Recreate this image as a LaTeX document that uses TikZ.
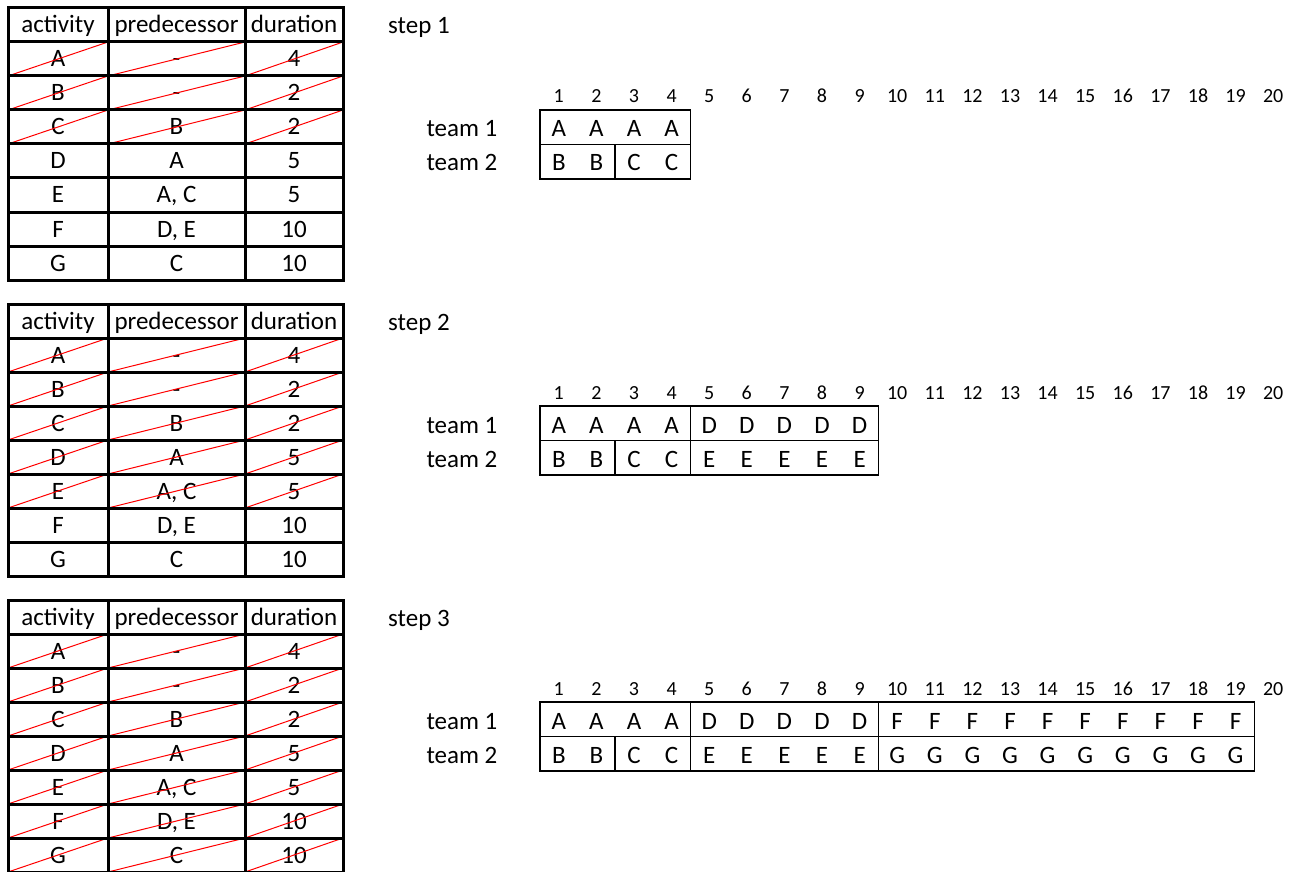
\documentclass[tikz,border=0pt]{standalone}
\usepackage{fontspec}
\setmainfont{Carlito}
\newcommand\acttable[2]{%
  \node[txt,anchor=base] (h#1a) at (58,#1+25) {activity};
  \node[txt,anchor=base] (h#1p) at (176.5,#1+25) {predecessor};
  \node[txt,anchor=base] (h#1d) at (294,#1+25) {duration};
  \foreach \a/\p/\d [count=\i] in {A/-/4,B/-/2,C/B/2,D/A/5,E/{A, C}/5,F/{D, E}/10,G/C/10}{
    \node[txt,anchor=base] (r#1a\i) at (58,#1+34*\i+25) {\a};
    \node[txt,anchor=base] (r#1p\i) at (176.5,#1+34*\i+25) {\p};
    \node[txt,anchor=base] (r#1d\i) at (294,#1+34*\i+25) {\d};
    \ifnum\i>#2\relax\else
      \draw[strike] (8,#1+34*\i+34) -- (108,#1+34*\i);
      \draw[strike] (108,#1+34*\i+34) -- (245,#1+34*\i);
      \draw[strike] (245,#1+34*\i+34) -- (343,#1+34*\i);
    \fi
  }
  \foreach \k in {1,...,7} \draw[tl] (8,#1+34*\k) -- (343,#1+34*\k);
  \draw[tl] (8,#1) rectangle (343,#1+272);
  \draw[tl] (108,#1) -- (108,#1+272);
  \draw[tl] (245,#1) -- (245,#1+272);
}
\newcommand\ganttframe[2]{%
  \node[txt,anchor=base west] (st#2) at (388,#1+34) {step #2};
  \foreach \k in {1,...,20}
    \node[num,anchor=base] (n#2x\k) at (540+37.6*\k-18.8,#1+103) {\k};
  \node[txt,anchor=base] (tm#2a) at (462,#1+137) {team 1};
  \node[txt,anchor=base] (tm#2b) at (462,#1+171) {team 2};
}
\newcommand\ganttrow[5]{% #1 offset, #2 name, #3 row (0/1), #4 letters, #5 segments
  \foreach \l [count=\k] in {#4}
    \node[txt,anchor=base] (g#2x\k) at (540+37.6*\k-18.8,#1+137+34*#3) {\l};
  \foreach \s/\e in {#5}
    \draw[cl] (540+37.6*\s-37.6,#1+110+34.5*#3) rectangle (540+37.6*\e,#1+144.5+34.5*#3);
}
\begin{document}
\begin{tikzpicture}[x=1pt,y=-1pt,
  tl/.style={line width=3pt},
  cl/.style={line width=1.5pt},
  strike/.style={red,line width=1pt},
  txt/.style={font=\fontsize{25}{30}\selectfont,inner sep=0pt},
  num/.style={font=\fontsize{20}{24}\selectfont,inner sep=0pt}]
\useasboundingbox (0,0) rectangle (1299,872);
\acttable{8}{3}
\acttable{304}{5}
\acttable{600}{7}
% step 1
\ganttframe{0}{1}
\ganttrow{0}{1a}{0}{A,A,A,A}{1/4}
\ganttrow{0}{1b}{1}{B,B,C,C}{1/2,3/4}
% step 2
\ganttframe{296}{2}
\ganttrow{296}{2a}{0}{A,A,A,A,D,D,D,D,D}{1/4,5/9}
\ganttrow{296}{2b}{1}{B,B,C,C,E,E,E,E,E}{1/2,3/4,5/9}
% step 3
\ganttframe{592}{3}
\ganttrow{592}{3a}{0}{A,A,A,A,D,D,D,D,D,F,F,F,F,F,F,F,F,F,F}{1/4,5/9,10/19}
\ganttrow{592}{3b}{1}{B,B,C,C,E,E,E,E,E,G,G,G,G,G,G,G,G,G,G}{1/2,3/4,5/9,10/19}
\end{tikzpicture}
\end{document}
